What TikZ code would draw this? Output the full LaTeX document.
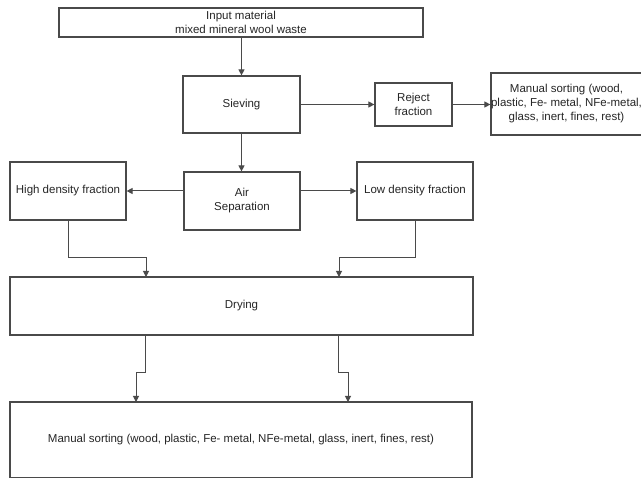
\documentclass[tikz,border=0pt]{standalone}
\usepackage{fontspec}
\setmainfont{Liberation Sans}
\usetikzlibrary{arrows.meta,calc}
\definecolor{linec}{HTML}{4A4A4A}
\definecolor{textc}{HTML}{262626}
\begin{document}
\begin{tikzpicture}[x=1pt,y=-1pt,
  box/.style={draw=linec,line width=1.2pt,fill=white,inner sep=0pt,align=center,
    text=textc,font=\fontsize{11.5}{14}\selectfont},
  arr/.style={draw=linec,line width=1pt,-{Triangle[length=6pt,width=6pt]}}]
\useasboundingbox (0,0) rectangle (641,478);
\node[box,minimum width=364pt,minimum height=29pt] (inp) at (241,22.5) {Input material\\mixed mineral wool waste};
\node[box,minimum width=117pt,minimum height=57pt] (siev) at (241.5,104.5) {Sieving};
\node[box,minimum width=77pt,minimum height=43pt] (rej) at (413.5,104.5) {Reject\\fraction};
\node[box,minimum width=160pt,minimum height=62pt] (ms1) at (571,104) {\hspace*{-9pt}Manual sorting (wood,\\\hspace*{-9pt}plastic, Fe- metal, NFe-metal,\\\hspace*{-9pt}glass, inert, fines, rest)};
\node[box,minimum width=116pt,minimum height=58pt] (air) at (242,201) {Air\\Separation};
\node[box,minimum width=116pt,minimum height=58pt] (high) at (68,191) {High density fraction};
\node[box,minimum width=116pt,minimum height=58pt] (low) at (415,191) {Low density fraction};
\node[box,minimum width=463pt,minimum height=58pt] (dry) at (241.5,306) {Drying};
\node[box,minimum width=462pt,minimum height=76pt] (ms2) at (241,440) {Manual sorting (wood, plastic, Fe- metal, NFe-metal, glass, inert, fines, rest)};
\coordinate (dinL) at (146,277);
\coordinate (dinR) at (339,277);
\coordinate (doutL) at (145,335);
\coordinate (doutR) at (338,335);
\coordinate (minL) at (136,402);
\coordinate (minR) at (348,402);
\draw[arr] (inp.south -| siev.north) -- (siev.north);
\draw[arr] (siev.south) -- (siev.south |- air.north);
\draw[arr] (siev.east) -- (rej.west);
\draw[arr] (rej.east) -- (rej.east -| ms1.west);
\draw[arr] (air.west |- high.east) -- (high.east);
\draw[arr] (air.east |- low.west) -- (low.west);
\draw[arr] (high.south) |- ($(dinL)+(0,-19)$) -- (dinL);
\draw[arr] (low.south) |- ($(dinR)+(0,-19)$) -- (dinR);
\draw[arr] (doutL) -- ++(0,38) -| (minL);
\draw[arr] (doutR) -- ++(0,38) -| (minR);
\end{tikzpicture}
\end{document}
